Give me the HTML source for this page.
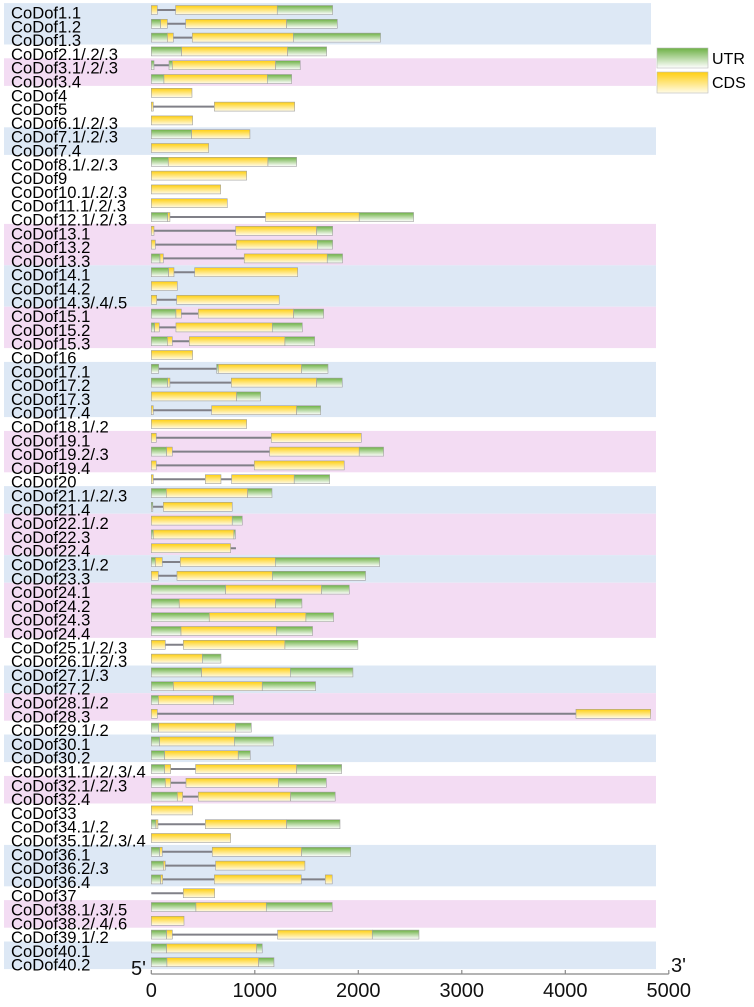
<!DOCTYPE html>
<html><head><meta charset="utf-8"><style>
html,body{margin:0;padding:0;background:#fff;}
svg{display:block;font-family:"Liberation Sans",sans-serif;}
</style></head><body>
<svg id="chart" width="754" height="1007" viewBox="0 0 754 1007" xmlns="http://www.w3.org/2000/svg">
<defs>
<linearGradient id="gU" x1="0" y1="0" x2="0" y2="1"><stop offset="0" stop-color="#6db144"/><stop offset="1" stop-color="#ffffff"/></linearGradient>
<linearGradient id="gC" x1="0" y1="0" x2="0" y2="1"><stop offset="0" stop-color="#ffcf10"/><stop offset="1" stop-color="#fffbe8"/></linearGradient>
</defs>
<g id="bands"></g>
<g id="labels"></g>
<g id="genes"></g>
<g id="axis"></g>
<g>
<rect x="657" y="48" width="51" height="20" fill="url(#gU)" stroke="#bbb" stroke-width="0.6"/>
<text x="712" y="64" font-size="16">UTR</text>
<rect x="657" y="72" width="51" height="21" fill="url(#gC)" stroke="#bbb" stroke-width="0.6"/>
<text x="712" y="88" font-size="16">CDS</text>
</g>
</svg>
<script>
const names = ["CoDof1.1","CoDof1.2","CoDof1.3","CoDof2.1/.2/.3","CoDof3.1/.2/.3","CoDof3.4","CoDof4","CoDof5","CoDof6.1/.2/.3","CoDof7.1/.2/.3","CoDof7.4","CoDof8.1/.2/.3","CoDof9","CoDof10.1/.2/.3","CoDof11.1/.2/.3","CoDof12.1/.2/.3","CoDof13.1","CoDof13.2","CoDof13.3","CoDof14.1","CoDof14.2","CoDof14.3/.4/.5","CoDof15.1","CoDof15.2","CoDof15.3","CoDof16","CoDof17.1","CoDof17.2","CoDof17.3","CoDof17.4","CoDof18.1/.2","CoDof19.1","CoDof19.2/.3","CoDof19.4","CoDof20","CoDof21.1/.2/.3","CoDof21.4","CoDof22.1/.2","CoDof22.3","CoDof22.4","CoDof23.1/.2","CoDof23.3","CoDof24.1","CoDof24.2","CoDof24.3","CoDof24.4","CoDof25.1/.2/.3","CoDof26.1/.2/.3","CoDof27.1/.3","CoDof27.2","CoDof28.1/.2","CoDof28.3","CoDof29.1/.2","CoDof30.1","CoDof30.2","CoDof31.1/.2/.3/.4","CoDof32.1/.2/.3","CoDof32.4","CoDof33","CoDof34.1/.2","CoDof35.1/.2/.3/.4","CoDof36.1","CoDof36.2/.3","CoDof36.4","CoDof37","CoDof38.1/.3/.5","CoDof38.2/.4/.6","CoDof39.1/.2","CoDof40.1","CoDof40.2"];
// segments: U=UTR, C=CDS, L=intron/line extent
const structures = [
"C0-58 C235-1217 U1217-1752","U0-90 C90-155 C332-1307 U1307-1797","U0-155 C155-213 C396-1372 U1372-2215","U0-293 C293-1317 U1317-1694",
"U0-26 U171-203 C203-1201 U1201-1439","U0-122 C122-1121 U1121-1356","C0-393","C0-19 C609-1385","C0-399",
"U0-390 C390-953","C0-554","U0-164 C164-1127 U1127-1404","C0-921","C0-670","C0-734",
"U0-158 C158-180 C1104-2009 U2009-2534","C0-26 C815-1597 U1597-1752","C0-39 C821-1604 U1604-1752","U0-84 C84-116 C898-1700 U1700-1848",
"U0-167 C167-219 C419-1414","C0-251","C0-52 C245-1236","U0-238 C238-290 C454-1375 U1375-1665","U0-32 C32-77 C238-1169 U1169-1459",
"U0-155 C155-203 C367-1291 U1291-1578","C0-399","U0-71 U631-647 C647-1452 U1452-1707","U0-158 C158-180 C773-1597 U1597-1845",
"C0-824 U824-1056","C0-19 C583-1404 U1404-1636","C0-921","C0-48 C1159-2029","U0-148 C148-203 C1143-2009 U2009-2244",
"C0-48 C995-1864","C0-19 C522-673 C776-1381 U1381-1723","U0-145 C145-931 U931-1166","U0-10 C116-782",
"C0-782 U782-879","U0-19 C19-798 U798-811","C0-766 L0-818","U0-39 C39-106 C280-1198 U1198-2206","C0-68 C248-1169 U1169-2070",
"U0-718 C718-1645 U1645-1913","U0-270 C270-1201 U1201-1455","U0-560 C560-1494 U1494-1761","U0-287 C287-1208 U1208-1558",
"C0-135 C309-1291 U1291-1996","C0-493 U493-673","U0-486 C486-1343 U1343-1948","U0-213 C213-1072 U1072-1587",
"U0-68 C68-599 U599-795","C0-58 C4103-4825","U0-71 C71-815 U815-966","U0-81 C81-802 U802-1179","U0-129 C129-840 U840-956",
"U0-129 C129-187 C428-1404 U1404-1839","U0-135 C135-187 C335-1230 U1230-1691","U0-251 C251-303 C454-1346 U1346-1777",
"C0-399","U0-45 C45-64 C522-1307 U1307-1823","C0-766","U0-81 C81-106 C589-1452 U1452-1926","U0-116 C116-135 C621-1484",
"U0-90 C90-110 C609-1449 C1681-1748","L0-309 C309-612","U0-431 C431-1111 U1111-1748","C0-316",
"U0-148 C148-203 C1220-2135 U2135-2586","U0-148 C148-1018 U1018-1072","U0-151 C151-1037 U1037-1185"];
// background band groups: [firstRow, lastRow, type] (1-based)
const bandGroups = [[1,3,"b"],[5,6,"p"],[10,11,"b"],[17,19,"p"],[20,22,"b"],[23,25,"p"],[27,30,"b"],[32,34,"p"],[36,37,"b"],[38,40,"p"],[41,42,"b"],[43,46,"p"],[49,50,"b"],[51,52,"p"],[54,55,"b"],[57,58,"p"],[62,64,"b"],[66,67,"p"],[69,70,"b"]];
const ticks = [0,1000,2000,3000,4000,5000];

const NS="http://www.w3.org/2000/svg";
const x0=151.3, k=0.1035;
const X=v=>x0+v*k;
const rowY=i=>10+i*13.8;
function mk(tag,attrs,parent){const e=document.createElementNS(NS,tag);for(const a in attrs)e.setAttribute(a,attrs[a]);parent.appendChild(e);return e;}
const gB=document.getElementById('bands'),gL=document.getElementById('labels'),gG=document.getElementById('genes'),gA=document.getElementById('axis');
bandGroups.forEach((b,j)=>{
  const y1=rowY(b[0]-1)-6.9, y2=rowY(b[1]-1)+6.9;
  const r=mk('rect',{x:4,y:y1,width:(j===0?647:652),height:y2-y1,fill:b[2]==='b'?'#dde8f5':'#f3dcf3'},gB);
  
  
});
names.forEach((n,i)=>{
  const t=mk('text',{x:11,y:rowY(i)+8.5,'font-size':16.6,fill:'#000'},gL);
  t.textContent=n;
  
  
});
structures.forEach((s,i)=>{
  const segs=s.split(' ').map(p=>{const [a,b]=p.slice(1).split('-').map(Number);return {t:p[0],a,b};});
  const lo=Math.min(...segs.map(q=>q.a)), hi=Math.max(...segs.map(q=>q.b));
  const y=rowY(i);
  const g=mk('g',{},gG);
  
  
  const ln=mk('line',{x1:X(lo),x2:X(hi),y1:y,y2:y,stroke:'#808088','stroke-width':2},g);
  
  
  segs.filter(q=>q.t!=='L').forEach(q=>{
    const r=mk('rect',{x:X(q.a),y:y-4.5,width:Math.max(1.5,(q.b-q.a)*k),height:9,fill:q.t==='U'?'url(#gU)':'url(#gC)',stroke:'#a0a0a0','stroke-width':0.6},g);
    
    
  });
});
const ay=974;
const al=mk('line',{x1:X(0),x2:X(5000),y1:ay,y2:ay,stroke:'#888','stroke-width':1.3},gA);


ticks.forEach(v=>{
  const tk=mk('line',{x1:X(v),x2:X(v),y1:ay-4,y2:ay,stroke:'#888','stroke-width':1.2},gA);
  
  
  const t=mk('text',{x:X(v),y:997,'font-size':20,'text-anchor':'middle',fill:'#111'},gA);
  t.textContent=String(v);
  
  
});
const t5=mk('text',{x:131,y:975,'font-size':20,fill:'#111'},gA);
t5.textContent="5'";


const t3=mk('text',{x:671,y:972,'font-size':20,fill:'#111'},gA);
t3.textContent="3'";


</script>
</body></html>
